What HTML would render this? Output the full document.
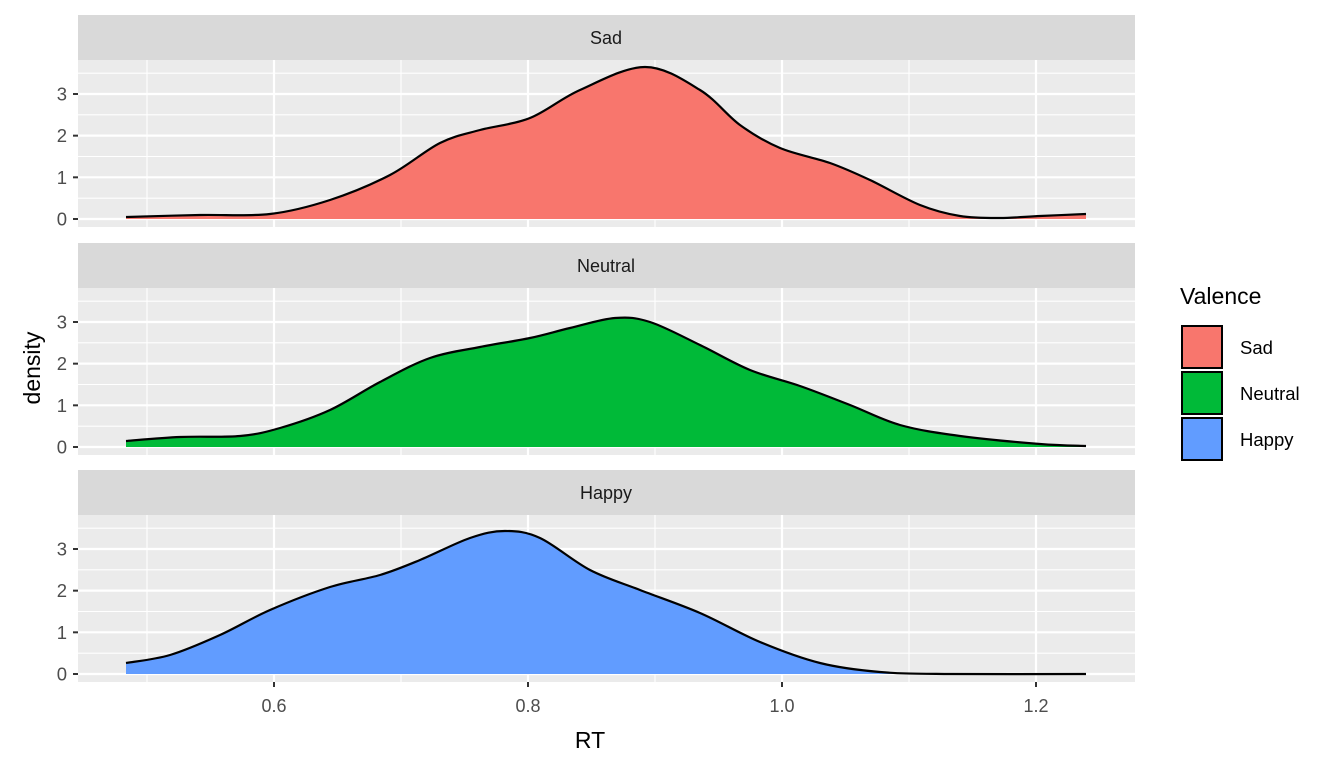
<!DOCTYPE html>
<html><head><meta charset="utf-8"><style>
body{margin:0;background:#fff;}
svg text{font-family:"Liberation Sans",sans-serif;}
</style></head><body>
<svg id="s" width="1344" height="768" xmlns="http://www.w3.org/2000/svg"></svg>
<script>
const s=document.getElementById('s');
let h='';
const X0=78,X1=1135;
const panels=[
 {name:'Sad',st:15,top:60,base:219,fill:'#F8766D',pts:[[126,217],[200,215],[270,214],[330,200],[390,175],[440,143],[480,130],[530,118],[580,90],[645,67],[700,90],[740,125],[780,148],[830,163],[870,180],[920,205],[960,216],[1000,218],[1040,216],[1086,214]]},
 {name:'Neutral',st:243,top:288,base:447,fill:'#00BA38',pts:[[126,441],[180,437],[240,436],[280,428],[330,410],[380,382],[430,358],[480,347],[530,338],[570,328],[615,318],[650,322],[700,345],[750,370],[800,386],[850,405],[900,425],[960,436],[1040,444],[1086,446]]},
 {name:'Happy',st:470,top:515,base:674,fill:'#619CFF',pts:[[126,663],[170,655],[220,635],[270,610],[330,587],[380,575],[420,560],[470,538],[505,531],[540,538],[590,570],[640,590],[700,613],[760,642],[820,663],[880,672],[950,674],[1086,674]]}
];
function cr(p){let d='M'+p[0][0]+','+p[0][1];for(let i=0;i<p.length-1;i++){const a=p[Math.max(0,i-1)],b=p[i],c=p[i+1],e=p[Math.min(p.length-1,i+2)];d+=` C${b[0]+(c[0]-a[0])/6},${b[1]+(c[1]-a[1])/6} ${c[0]-(e[0]-b[0])/6},${c[1]-(e[1]-b[1])/6} ${c[0]},${c[1]}`;}return d;}
for(const p of panels){
 const bot=p.top+167,u=41.67;
 h+=`<rect x="${X0}" y="${p.st}" width="${X1-X0}" height="${p.top-p.st}" fill="#D9D9D9"/>`;
 h+=`<text x="606" y="${p.st+29}" font-size="18" fill="#1a1a1a" text-anchor="middle">${p.name}</text>`;
 h+=`<rect x="${X0}" y="${p.top}" width="${X1-X0}" height="167" fill="#EBEBEB"/>`;
 for(const v of [0.5,1.5,2.5,3.5]){const y=p.base-v*u;h+=`<line x1="${X0}" x2="${X1}" y1="${y}" y2="${y}" stroke="#fff" stroke-width="1.1"/>`;}
 for(const x of [147,401,655,909])h+=`<line x1="${x}" x2="${x}" y1="${p.top}" y2="${bot}" stroke="#fff" stroke-width="1.1"/>`;
 for(const v of [0,1,2,3]){const y=p.base-v*u;h+=`<line x1="${X0}" x2="${X1}" y1="${y}" y2="${y}" stroke="#fff" stroke-width="2.2"/><line x1="73" x2="78" y1="${y}" y2="${y}" stroke="#333" stroke-width="2"/><text x="67" y="${y+6.5}" font-size="18.5" fill="#4d4d4d" text-anchor="end">${v}</text>`;}
 for(const x of [274,528,782,1036])h+=`<line x1="${x}" x2="${x}" y1="${p.top}" y2="${bot}" stroke="#fff" stroke-width="2.2"/>`;
 const d=cr(p.pts);
 h+=`<path d="${d} L1086,${p.base} L126,${p.base} Z" fill="${p.fill}"/><path d="${d}" fill="none" stroke="#000" stroke-width="2.2"/>`;
}
[['0.6',274],['0.8',528],['1.0',782],['1.2',1036]].forEach(([t,x])=>{h+=`<line x1="${x}" x2="${x}" y1="682" y2="687" stroke="#333" stroke-width="2"/><text x="${x}" y="712" font-size="18" fill="#4d4d4d" text-anchor="middle">${t}</text>`;});
h+=`<text x="590" y="748" font-size="23" fill="#000" text-anchor="middle">RT</text>`;
h+=`<text transform="translate(40,368) rotate(-90)" font-size="23" fill="#000" text-anchor="middle">density</text>`;
h+=`<text x="1180" y="304" font-size="23" fill="#000">Valence</text>`;
[['Sad','#F8766D',325],['Neutral','#00BA38',371],['Happy','#619CFF',417]].forEach(([n,c,y])=>{h+=`<rect x="1181" y="${y}" width="42" height="44" fill="#F2F2F2"/><rect x="1182" y="${y+1}" width="40" height="42" fill="${c}" stroke="#000" stroke-width="2"/><text x="1240" y="${y+29}" font-size="18.5" fill="#000">${n}</text>`;});
s.innerHTML=h;
</script>
</body></html>
